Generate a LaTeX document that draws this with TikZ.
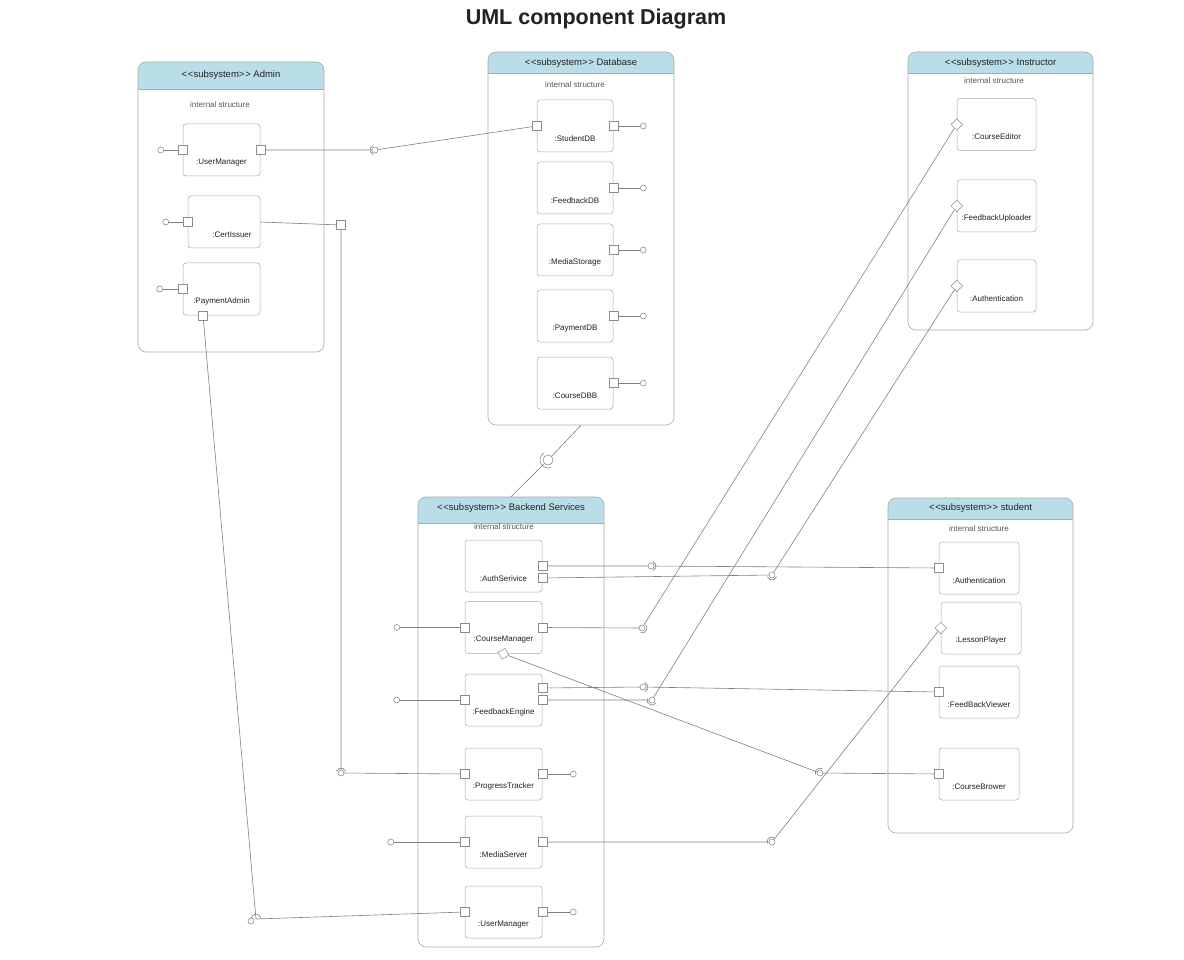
\documentclass[tikz,border=0pt]{standalone}
\usepackage{fontspec}
\setmainfont{Liberation Sans}
\usepackage{tikz}
\usepackage{xcolor}
\definecolor{headerblue}{RGB}{185, 222, 232}
\definecolor{framegray}{RGB}{170, 170, 170}
\definecolor{wiregray}{RGB}{128, 128, 128}
\definecolor{textdark}{RGB}{34, 34, 34}

\tikzset{
  subsys/.style={draw=framegray, rounded corners=8pt, line width=0.6pt, inner sep=0pt},
  subhead/.style={fill=headerblue},
  headtext/.style={font=\fontsize{9.5}{11}\selectfont, text=textdark},
  innertext/.style={font=\fontsize{8}{9}\selectfont, text=black!65},
  comp/.style={draw=framegray, rounded corners=3pt, line width=0.5pt, minimum width=77pt, minimum height=52pt, inner sep=0pt},
  lbl/.style={font=\fontsize{8}{9}\selectfont, text=textdark, yshift=-12.5pt},
  port/.style={draw=wiregray!90, fill=white, minimum size=9pt, inner sep=0pt, line width=0.5pt},
  ball/.style={circle, draw=wiregray, fill=white, minimum size=6pt, inner sep=0pt, line width=0.5pt},
  wire/.style={draw=wiregray, line width=0.6pt},
}

\begin{document}
\begin{tikzpicture}[x=1pt, y=-1pt]
            \fill[white] (0,0) rectangle (1184,960);
            \useasboundingbox (0,0) rectangle (1184,960);
            \node[font=\fontsize{21.5}{26}\selectfont\bfseries, text=textdark] (title) at (596,19) {UML component Diagram};

            % Admin
            \fill[subhead, rounded corners=8pt] (138,62) rectangle (324,89);
            \fill[subhead] (138,80) rectangle (324,89);
            \node[subsys, minimum width=186pt, minimum height=290pt] (admin) at (231,207) {};
            \draw[framegray] (138,89) -- (324,89);
            \node[headtext] (adminT) at (231,75.5) {<\kern0.8pt<subsystem>\kern0.8pt> Admin};
            \node[innertext] (adminI) at (220,105) {internal structure};

            \node[comp, label={[lbl]center:{:UserManager}}] (aum) at (221.5,150) {};
            \node[port] (aumL) at (aum.west) {};
            \node[port] (aumR) at (aum.east) {};
            \node[ball] (aumO) at ([xshift=-22pt]aumL) {};
            \draw[wire] (aumL) -- (aumO);

            \node[comp, minimum width=72pt, label={[lbl, xshift=8pt]center:{:CertIssuer}}] (cert) at (224,222) {};
            \node[port] (certL) at (cert.west) {};
            \node[ball] (certO) at ([xshift=-22pt]certL) {};
            \draw[wire] (certL) -- (certO);

            \node[comp, label={[lbl]center:{:PaymentAdmin}}] (pay) at (221.5,289) {};
            \node[port] (payL) at (pay.west) {};
            \node[port] (payB) at ([xshift=-18.5pt]pay.south) {};
            \node[ball] (payO) at ([xshift=-23pt]payL) {};
            \draw[wire] (payL) -- (payO);

            % Database
            \fill[subhead, rounded corners=8pt] (488,52) rectangle (674,73);
            \fill[subhead] (488,64) rectangle (674,73);
            \node[subsys, minimum width=186pt, minimum height=373pt] (db) at (581,238.5) {};
            \draw[framegray] (488,73) -- (674,73);
            \node[headtext] (dbT) at (581,63.5) {<\kern0.8pt<subsystem>\kern0.8pt> Database};
            \node[innertext] (dbI) at (575,85) {internal structure};

            \node[comp, minimum width=76pt, label={[lbl]center:{:StudentDB}}] (sdb) at (575,126) {};
            \node[port] (sdbL) at (sdb.west) {};
            \node[port] (sdbR) at (sdb.east) {};
            \node[ball] (sdbO) at ([xshift=30pt]sdbR) {};
            \draw[wire] (sdbR) -- (sdbO);

            \node[comp, minimum width=76pt, label={[lbl]center:{:FeedbackDB}}] (fdb) at (575,188) {};
            \node[port] (fdbR) at (fdb.east) {};
            \node[ball] (fdbO) at ([xshift=30pt]fdbR) {};
            \draw[wire] (fdbR) -- (fdbO);

            \node[comp, minimum width=76pt, label={[lbl]center:{:MediaStorage}}] (mst) at (575,250) {};
            \node[port] (mstR) at (mst.east) {};
            \node[ball] (mstO) at ([xshift=30pt]mstR) {};
            \draw[wire] (mstR) -- (mstO);

            \node[comp, minimum width=76pt, label={[lbl]center:{:PaymentDB}}] (pdb) at (575,316) {};
            \node[port] (pdbR) at (pdb.east) {};
            \node[ball] (pdbO) at ([xshift=30pt]pdbR) {};
            \draw[wire] (pdbR) -- (pdbO);

            \node[comp, minimum width=76pt, label={[lbl]center:{:CourseDBB}}] (cdb) at (575,383) {};
            \node[port] (cdbR) at (cdb.east) {};
            \node[ball] (cdbO) at ([xshift=30pt]cdbR) {};
            \draw[wire] (cdbR) -- (cdbO);

            % Instructor
            \fill[subhead, rounded corners=8pt] (908,52) rectangle (1093,73);
            \fill[subhead] (908,64) rectangle (1093,73);
            \node[subsys, minimum width=185pt, minimum height=278pt] (instr) at (1000.5,191) {};
            \draw[framegray] (908,73) -- (1093,73);
            \node[headtext] (instrT) at (1000.5,63.5) {<\kern0.8pt<subsystem>\kern0.8pt> Instructor};
            \node[innertext] (instrI) at (994,81) {internal structure};

            \node[comp, minimum width=79pt, label={[lbl]center:{:CourseEditor}}] (ce) at (996.5,124.5) {};
            \node[port, rotate=45, minimum size=8pt] (ceL) at (ce.west) {};
            \node[comp, minimum width=79pt, label={[lbl]center:{:FeedbackUploader}}] (fu) at (996.5,206) {};
            \node[port, rotate=45, minimum size=8pt] (fuL) at (fu.west) {};
            \node[comp, minimum width=79pt, label={[lbl]center:{:Authentication}}] (ia) at (996.5,286) {};
            \node[port, rotate=45, minimum size=8pt] (iaL) at (ia.west) {};

            % Backend Services
            \fill[subhead, rounded corners=8pt] (418,497) rectangle (604,523);
            \fill[subhead] (418,510) rectangle (604,523);
            \node[subsys, minimum width=186pt, minimum height=450pt] (back) at (511,722) {};
            \draw[framegray] (418,523) -- (604,523);
            \node[headtext] (backT) at (511,508) {<\kern0.8pt<subsystem>\kern0.8pt> Backend Services};
            \node[innertext] (backI) at (504,527) {internal structure};

            \node[comp, label={[lbl]center:{:AuthSerivice}}] (auth) at (503.5,566) {};
            \node[port] (authR) at (auth.east) {};
            \node[port] (authS) at ([yshift=-12pt]auth.east) {};

            \node[comp, label={[lbl]center:{:CourseManager}}] (cm) at (503.5,627.5) {};
            \node[port] (cmL) at (cm.west) {};
            \node[port] (cmR) at (cm.east) {};
            \node[port, rotate=30, minimum size=8pt] (cmB) at (cm.south) {};
            \node[ball] (cmO) at ([xshift=-68pt]cmL) {};
            \draw[wire] (cmL) -- (cmO);

            \node[comp, label={[lbl]center:{:FeedbackEngine}}] (fe) at (503.5,700) {};
            \node[port] (feL) at (fe.west) {};
            \node[port] (feU) at ([yshift=12pt]fe.east) {};
            \node[port] (feR) at (fe.east) {};
            \node[ball] (feO) at ([xshift=-68pt]feL) {};
            \draw[wire] (feL) -- (feO);

            \node[comp, label={[lbl]center:{:ProgressTracker}}] (pt) at (503.5,774) {};
            \node[port] (ptL) at (pt.west) {};
            \node[port] (ptR) at (pt.east) {};
            \node[ball] (ptO) at ([xshift=31pt]ptR) {};
            \draw[wire] (ptR) -- (ptO);

            \node[comp, label={[lbl]center:{:MediaServer}}] (mse) at (503.5,842) {};
            \node[port] (mseL) at (mse.west) {};
            \node[port] (mseR) at (mse.east) {};
            \node[ball] (mseO) at ([xshift=-74pt]mseL) {};
            \draw[wire] (mseL) -- (mseO);

            \node[comp, label={[lbl]center:{:UserManager}}] (bum) at (503.5,912) {};
            \node[port] (bumL) at (bum.west) {};
            \node[port] (bumR) at (bum.east) {};
            \node[ball] (bumO) at ([xshift=31pt]bumR) {};
            \draw[wire] (bumR) -- (bumO);

            % student
            \fill[subhead, rounded corners=8pt] (888,498) rectangle (1073,519);
            \fill[subhead] (888,510) rectangle (1073,519);
            \node[subsys, minimum width=185pt, minimum height=335pt] (stud) at (980.5,665.5) {};
            \draw[framegray] (888,519) -- (1073,519);
            \node[headtext] (studT) at (980.5,508.5) {<\kern0.8pt<subsystem>\kern0.8pt> student};
            \node[innertext] (studI) at (979,529) {internal structure};

            \node[comp, minimum width=80pt, label={[lbl]center:{:Authentication}}] (sa) at (979,568) {};
            \node[port] (saL) at (sa.west) {};
            \node[comp, minimum width=80pt, label={[lbl]center:{:LessonPlayer}}] (lp) at (981,628) {};
            \node[port, rotate=45, minimum size=8pt] (lpL) at (lp.west) {};
            \node[comp, minimum width=80pt, label={[lbl]center:{:FeedBackViewer}}] (fv) at (979,692) {};
            \node[port] (fvL) at (fv.west) {};
            \node[comp, minimum width=80pt, label={[lbl]center:{:CourseBrower}}] (cb) at (979,774) {};
            \node[port] (cbL) at (cb.west) {};

            % assembly connectors
            \node[ball] (s1) at (375,150) {};
            \node[ball, minimum size=10pt] (s2) at (548,460) {};
            \node[ball] (s3) at (651,566) {};
            \node[ball] (s4) at (772,575) {};
            \node[ball] (s5) at (642,628) {};
            \node[ball] (s6) at (643,687) {};
            \node[ball] (s7) at (652,700) {};
            \node[ball] (s8) at (820,773) {};
            \node[ball] (s9) at (772,842) {};
            \node[ball] (s10) at (341,773) {};
            \node[ball] (s11) at (251,921) {};
            \coordinate (s11c) at (256,919);
            \node[port] (certP) at (341,225) {};

            \draw[wire] (aumR) -- (s1) -- (sdbL);
            \draw[wire] (db.south) -- (s2) -- (back.north);
            \draw[wire] (authR) -- (s3) -- (saL);
            \draw[wire] (authS) -- (s4) -- (iaL);
            \draw[wire] (cmR) -- (s5) -- (ceL);
            \draw[wire] (feU) -- (s6) -- (fvL);
            \draw[wire] (feR) -- (s7) -- (fuL);
            \draw[wire] (cmB) -- (s8) -- (cbL);
            \draw[wire] (mseR) -- (s9) -- (lpL);
            \draw[wire] (cert.east) -- (certP) -- (s10) -- (ptL);
            \draw[wire] (payB) -- (s11c) -- (bumL);

            % sockets
            \draw[wire] ([shift={(110:5pt)}]s1.center) arc[start angle=110, end angle=250, radius=5pt];
            \draw[wire] ([shift={(120:8pt)}]s2.center) arc[start angle=120, end angle=290, radius=8pt];
            \draw[wire] ([shift={(-70:5pt)}]s3.center) arc[start angle=-70, end angle=70, radius=5pt];
            \draw[wire] ([shift={(200:5pt)}]s4.center) arc[start angle=200, end angle=340, radius=5pt];
            \draw[wire] ([shift={(-110:5pt)}]s5.center) arc[start angle=-110, end angle=40, radius=5pt];
            \draw[wire] ([shift={(-70:5pt)}]s6.center) arc[start angle=-70, end angle=70, radius=5pt];
            \draw[wire] ([shift={(160:5pt)}]s7.center) arc[start angle=160, end angle=320, radius=5pt];
            \draw[wire] ([shift={(60:5pt)}]s8.center) arc[start angle=60, end angle=200, radius=5pt];
            \draw[wire] ([shift={(60:5pt)}]s9.center) arc[start angle=60, end angle=200, radius=5pt];
            \draw[wire] ([shift={(20:5pt)}]s10.center) arc[start angle=20, end angle=160, radius=5pt];
            \draw[wire] ([shift={(0:5pt)}]s11c) arc[start angle=0, end angle=180, radius=5pt];
        \end{tikzpicture}
\end{document}
